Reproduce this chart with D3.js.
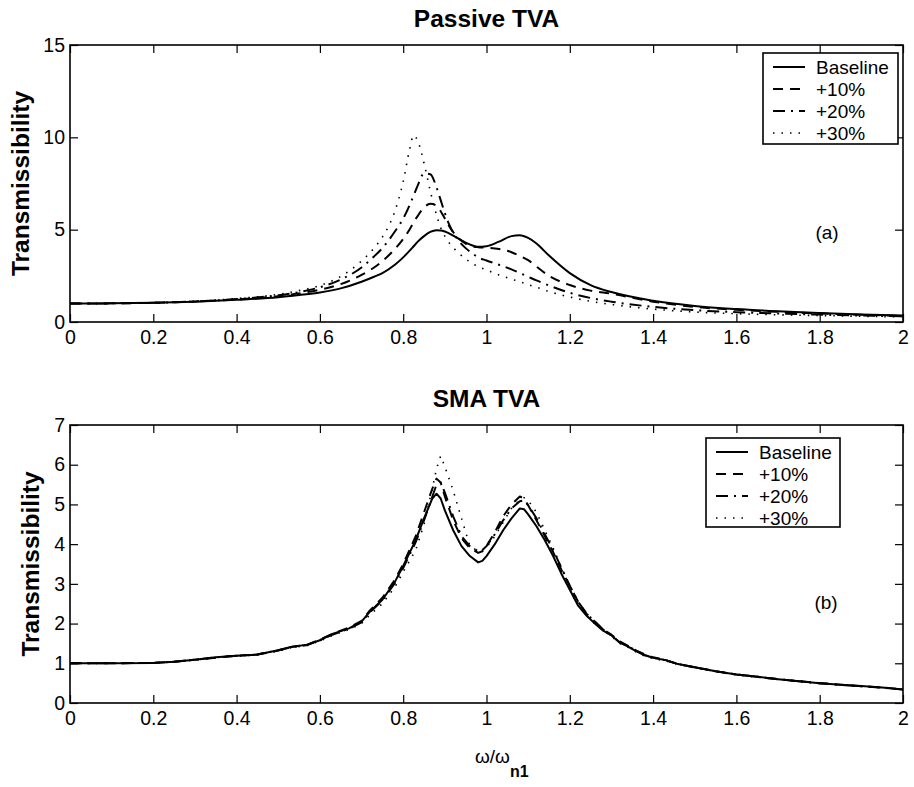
<!DOCTYPE html>
<html>
<head>
<meta charset="utf-8">
<script src="https://cdn.jsdelivr.net/npm/d3@7"></script>
<style>
  html, body { margin: 0; padding: 0; background: #fff; }
  svg { display: block; }
  text { font-family: "Liberation Sans", Arial, Helvetica, sans-serif; fill: #000; }
</style>
</head>
<body>
<svg id="chart" width="914" height="787"></svg>
<script>
// Frequency ratio grid for the passive absorber curves
const xsPassive = [0,0.1,0.2,0.3,0.4,0.5,0.55,0.6,0.65,0.7,0.73,0.75,0.78,0.8,0.815,0.825,0.835,0.85,0.865,0.88,0.89,0.9,0.91,0.93,0.95,0.97,0.98,1.0,1.03,1.06,1.08,1.1,1.12,1.15,1.2,1.25,1.3,1.4,1.5,1.6,1.7,1.8,1.9,2.0];
const passiveBaseline = [1.0,1.01,1.04,1.1,1.2,1.34,1.46,1.6,1.82,2.18,2.45,2.65,3.1,3.5,3.85,4.1,4.35,4.65,4.88,4.97,4.96,4.9,4.8,4.55,4.3,4.12,4.07,4.1,4.35,4.65,4.7,4.55,4.25,3.6,2.65,2.0,1.62,1.15,0.87,0.7,0.58,0.49,0.41,0.35];
const passive10 = [1.0,1.01,1.04,1.11,1.22,1.4,1.55,1.75,2.05,2.55,2.95,3.3,3.95,4.5,5.0,5.4,5.75,6.2,6.4,6.3,6.0,5.6,5.2,4.6,4.25,4.08,4.05,4.02,3.95,3.78,3.58,3.35,3.0,2.5,2.0,1.7,1.53,1.1,0.82,0.66,0.55,0.46,0.39,0.33];
const passive20 = [1.0,1.01,1.04,1.11,1.24,1.45,1.62,1.88,2.3,2.95,3.55,4.0,4.9,5.6,6.3,6.85,7.4,8.05,8.0,7.3,6.6,5.9,5.3,4.5,4.0,3.65,3.5,3.33,3.1,2.85,2.65,2.45,2.25,1.98,1.58,1.3,1.1,0.82,0.64,0.53,0.46,0.4,0.35,0.31];
const passive30 = [1.0,1.01,1.05,1.12,1.27,1.5,1.7,1.97,2.47,3.3,4.0,4.6,6.0,7.6,9.3,10.1,9.8,8.6,7.1,5.8,5.1,4.65,4.3,3.8,3.42,3.12,3.0,2.82,2.55,2.32,2.18,2.02,1.88,1.65,1.35,1.12,0.95,0.7,0.54,0.45,0.39,0.35,0.31,0.28];

// Frequency ratio grid for the SMA absorber measurements
const xsSma = [0,0.1,0.2,0.25,0.3,0.35,0.4,0.45,0.5,0.53,0.57,0.6,0.63,0.67,0.7,0.72,0.75,0.78,0.8,0.83,0.85,0.87,0.88,0.89,0.9,0.92,0.94,0.96,0.98,0.99,1.0,1.02,1.04,1.06,1.08,1.09,1.1,1.12,1.14,1.16,1.18,1.2,1.22,1.24,1.26,1.28,1.3,1.32,1.34,1.36,1.38,1.4,1.43,1.46,1.5,1.55,1.6,1.65,1.7,1.75,1.8,1.85,1.9,1.95,2.0];
const smaBaseline = [1.0,1.0,1.01,1.04,1.09,1.15,1.19,1.22,1.33,1.41,1.47,1.58,1.74,1.88,2.05,2.3,2.6,3.05,3.45,4.1,4.65,5.15,5.27,5.15,4.85,4.35,3.95,3.7,3.54,3.58,3.7,4.0,4.35,4.65,4.9,4.88,4.75,4.45,4.1,3.7,3.25,2.85,2.45,2.2,2.0,1.82,1.7,1.52,1.42,1.3,1.2,1.14,1.08,0.98,0.9,0.8,0.72,0.66,0.6,0.55,0.5,0.46,0.43,0.39,0.34];
const sma10 = [1.0,1.0,1.01,1.04,1.09,1.14,1.19,1.22,1.32,1.41,1.47,1.6,1.74,1.9,2.07,2.33,2.65,3.1,3.5,4.2,4.8,5.4,5.65,5.55,5.2,4.6,4.15,3.9,3.78,3.82,3.95,4.3,4.7,5.0,5.2,5.15,4.98,4.6,4.2,3.8,3.35,2.95,2.55,2.25,2.05,1.85,1.72,1.55,1.44,1.32,1.22,1.15,1.08,0.98,0.9,0.8,0.72,0.66,0.6,0.55,0.5,0.46,0.42,0.39,0.34];
const sma20 = [1.0,1.0,1.01,1.04,1.09,1.15,1.19,1.22,1.33,1.4,1.46,1.58,1.72,1.87,2.03,2.28,2.58,3.02,3.4,4.05,4.6,5.2,5.5,5.55,5.3,4.7,4.2,3.95,3.82,3.85,3.95,4.25,4.6,4.9,5.08,5.1,4.98,4.65,4.25,3.85,3.4,2.95,2.55,2.25,2.05,1.85,1.7,1.53,1.43,1.31,1.21,1.14,1.08,0.98,0.9,0.8,0.72,0.66,0.6,0.55,0.5,0.46,0.42,0.39,0.34];
const sma30 = [1.0,1.0,1.01,1.04,1.08,1.14,1.18,1.21,1.31,1.39,1.45,1.56,1.7,1.85,2.0,2.22,2.5,2.92,3.3,3.85,4.5,5.4,5.9,6.22,5.95,5.35,4.65,3.95,3.82,3.85,3.92,4.2,4.55,4.9,5.12,5.17,5.1,4.8,4.35,3.9,3.4,2.95,2.5,2.2,2.0,1.82,1.68,1.5,1.4,1.28,1.18,1.12,1.06,0.97,0.89,0.79,0.71,0.65,0.59,0.54,0.49,0.45,0.42,0.38,0.33];

const seriesNames = ["Baseline", "+10%", "+20%", "+30%"];
const xTicks = [0,0.2,0.4,0.6,0.8,1,1.2,1.4,1.6,1.8,2];
const xTickLabels = ["0","0.2","0.4","0.6","0.8","1","1.2","1.4","1.6","1.8","2"];
const passiveYTicks = [0,5,10,15];
const smaYTicks = [0,1,2,3,4,5,6,7];

// Line styles for the four stiffness cases
const styles = [
  { dash: null, width: 2 },
  { dash: "10,7", width: 2 },
  { dash: "12,6,2,6", width: 2 },
  { dash: "1.5,7", width: 1.6 }
];

const svg = d3.select("#chart");
const left = 70, right = 903;
const x = d3.scaleLinear().domain([0, 2]).range([left, right]);

function panel(cfg) {
  const y = d3.scaleLinear().domain([0, cfg.yMax]).range([cfg.bottom, cfg.top]);
  const g = svg.append("g");

  // clip curves to the axes box
  const clipId = "clip-" + cfg.key;
  svg.append("clipPath").attr("id", clipId)
    .append("rect").attr("x", left).attr("y", cfg.top)
    .attr("width", right - left).attr("height", cfg.bottom - cfg.top);

  const line = d3.line()
    .x(d => x(d[0])).y(d => y(d[1]))
    .curve(cfg.curve);

  const curves = g.append("g").attr("clip-path", `url(#${clipId})`);
  cfg.values.forEach((vals, i) => {
    const pts = d3.zip(cfg.xs, vals);
    curves.append("path")
      .attr("d", line(pts))
      .attr("fill", "none")
      .attr("stroke", "#000")
      .attr("stroke-width", styles[i].width)
      .attr("stroke-dasharray", styles[i].dash)
      .attr("stroke-linejoin", "round");
  });

  // axes with inward ticks on all four sides
  const fmt = (d) => xTickLabels[xTicks.indexOf(d)];
  const ax = g.append("g").attr("transform", `translate(0,${cfg.bottom})`)
    .call(d3.axisBottom(x).tickValues(xTicks).tickFormat(fmt).tickSizeInner(-8).tickSizeOuter(0).tickPadding(5));
  g.append("g").attr("transform", `translate(0,${cfg.top})`)
    .call(d3.axisTop(x).tickValues(xTicks).tickFormat("").tickSizeInner(-8).tickSizeOuter(0));
  g.append("g").attr("transform", `translate(${left},0)`)
    .call(d3.axisLeft(y).tickValues(cfg.yTicks).tickFormat(d => String(d)).tickSizeInner(-8).tickSizeOuter(0).tickPadding(5));
  g.append("g").attr("transform", `translate(${right},0)`)
    .call(d3.axisRight(y).tickValues(cfg.yTicks).tickFormat("").tickSizeInner(-8).tickSizeOuter(0));
  g.selectAll(".domain").remove();
  g.selectAll(".tick line").attr("stroke", "#000").attr("stroke-width", 1.2);
  g.selectAll(".tick text").attr("font-size", 19.5).attr("fill", "#000")
    .attr("font-family", "Liberation Sans, Arial, sans-serif");
  ax.selectAll(".tick text").attr("dy", "0.85em");

  g.append("rect")
    .attr("x", left).attr("y", cfg.top)
    .attr("width", right - left).attr("height", cfg.bottom - cfg.top)
    .attr("fill", "none").attr("stroke", "#000").attr("stroke-width", 1.6);

  // title
  g.append("text").attr("x", (left + right) / 2).attr("y", cfg.titleY)
    .attr("text-anchor", "middle").attr("font-size", 24.5).attr("font-weight", "bold")
    .text(cfg.title);

  // y label
  g.append("text")
    .attr("transform", `translate(${cfg.yLabelX},${(cfg.top + cfg.bottom) / 2}) rotate(-90)`)
    .attr("text-anchor", "middle").attr("font-size", 24.5).attr("font-weight", "bold")
    .text("Transmissibility");

  // panel tag
  g.append("text").attr("x", cfg.tagX).attr("y", cfg.tagY)
    .attr("text-anchor", "middle").attr("font-size", 19).text(cfg.tag);

  // legend
  const lg = g.append("g").attr("transform", `translate(${cfg.legend.x},${cfg.legend.y})`);
  lg.append("rect").attr("width", cfg.legend.w).attr("height", cfg.legend.h)
    .attr("fill", "#fff").attr("stroke", "#000").attr("stroke-width", 1.6);
  seriesNames.forEach((name, i) => {
    const ry = 14 + i * 22;
    lg.append("line").attr("x1", 10).attr("x2", 42).attr("y1", ry).attr("y2", ry)
      .attr("stroke", "#000").attr("stroke-width", styles[i].width)
      .attr("stroke-dasharray", styles[i].dash);
    lg.append("text").attr("x", 53).attr("y", ry + 7).attr("font-size", 19).text(name);
  });
}

panel({
  key: "a", top: 45, bottom: 322, yMax: 15, yTicks: passiveYTicks,
  xs: xsPassive, values: [passiveBaseline, passive10, passive20, passive30],
  curve: d3.curveMonotoneX,
  title: "Passive TVA", titleY: 27, yLabelX: 29,
  tag: "(a)", tagX: 827, tagY: 239,
  legend: { x: 763, y: 53, w: 135, h: 91 }
});

panel({
  key: "b", top: 425, bottom: 703, yMax: 7, yTicks: smaYTicks,
  xs: xsSma, values: [smaBaseline, sma10, sma20, sma30],
  curve: d3.curveLinear,
  title: "SMA TVA", titleY: 407, yLabelX: 39,
  tag: "(b)", tagX: 826, tagY: 609,
  legend: { x: 706, y: 438, w: 134, h: 89 }
});

// shared x-axis label
const xl = svg.append("text").attr("x", 475).attr("y", 763).attr("font-size", 19);
xl.append("tspan").text("ω/ω");
xl.append("tspan").attr("dy", 14).attr("font-size", 16).attr("font-weight", "bold").text("n1");
</script>
</body>
</html>
